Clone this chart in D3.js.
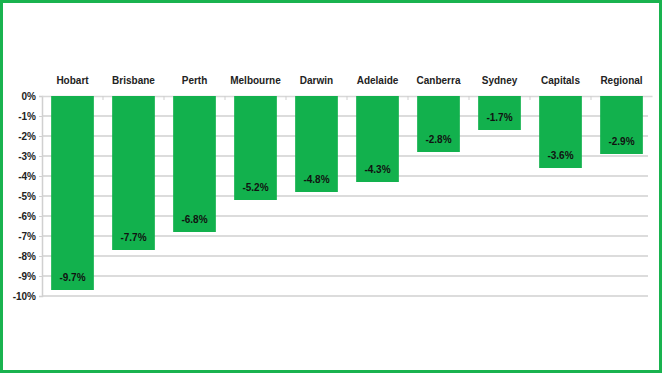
<!DOCTYPE html>
<html><head><meta charset="utf-8">
<script src="https://cdn.jsdelivr.net/npm/d3@7"></script>
<style>html,body{margin:0;padding:0;background:#fff;}svg{display:block;}</style>
</head><body>
<script>
const categories = ["Hobart","Brisbane","Perth","Melbourne","Darwin","Adelaide","Canberra","Sydney","Capitals","Regional"];
const values = [-9.7,-7.7,-6.8,-5.2,-4.8,-4.3,-2.8,-1.7,-3.6,-2.9];
const yTicks = [0,-1,-2,-3,-4,-5,-6,-7,-8,-9,-10];

const W = 662, H = 373;
const svg = d3.select("body").append("svg").attr("width", W).attr("height", H);
svg.append("rect").attr("x",1.5).attr("y",1.5).attr("width",W-3).attr("height",H-3)
  .attr("fill","#ffffff").attr("stroke","#19b34f").attr("stroke-width",3);

const pL = 42, pR = 652, pT = 96, pB = 296;
const x = d3.scaleBand().domain(categories).range([pL, pR]).paddingInner(0.3).paddingOuter(0.15);
const y = d3.scaleLinear().domain([0, -10]).range([pT, pB]);

// gridlines
svg.append("g").selectAll("line").data(yTicks.filter(d=>d!==0)).join("line")
  .attr("x1", pL).attr("x2", 648).attr("y1", d=>y(d)).attr("y2", d=>y(d))
  .attr("stroke","#dcdcdc").attr("stroke-width",2);

// y axis
const yAxis = d3.axisLeft(y).tickValues(yTicks).tickSize(3).tickFormat(d=>d+"%");
const ga = svg.append("g").attr("transform",`translate(${pL},0)`).call(yAxis);
ga.select(".domain").attr("stroke","#d0d0d0").attr("stroke-width",1.5);
ga.selectAll(".tick line").attr("stroke","#d0d0d0");
ga.selectAll(".tick text").attr("x",-6).attr("font-family","Liberation Sans, Arial, sans-serif")
  .attr("font-weight","bold").attr("font-size",10).attr("fill","#222");

// top category axis
const xAxis = d3.axisTop(x).tickSize(0).tickPadding(12);
const gx = svg.append("g").attr("transform",`translate(0,${pT})`).call(xAxis);
gx.select(".domain").attr("stroke","#d8d8d8").attr("stroke-width",1.5);
gx.selectAll(".tick text").attr("font-family","Liberation Sans, Arial, sans-serif")
  .attr("font-weight","bold").attr("font-size",10).attr("fill","#222");
// small separator ticks between categories
svg.append("g").selectAll("line").data(categories.slice(1)).join("line")
  .attr("x1", d=>x(d)-x.step()*x.paddingInner()/2).attr("x2", d=>x(d)-x.step()*x.paddingInner()/2)
  .attr("y1", pT).attr("y2", pT+4).attr("stroke","#cfcfcf");

// bars
svg.append("g").selectAll("rect").data(values).join("rect")
  .attr("x", (d,i)=>x(categories[i])).attr("width", x.bandwidth())
  .attr("y", y(0)).attr("height", d=>y(d)-y(0))
  .attr("fill","#12b14d");

// value labels
svg.append("g").selectAll("text").data(values).join("text")
  .attr("x", (d,i)=>x(categories[i])+x.bandwidth()/2)
  .attr("y", d=>y(d)-9)
  .attr("text-anchor","middle")
  .attr("font-family","Liberation Sans, Arial, sans-serif")
  .attr("font-weight","bold").attr("font-size",10).attr("fill","#111")
  .text(d=>d.toFixed(1)+"%");
</script>
</body></html>
